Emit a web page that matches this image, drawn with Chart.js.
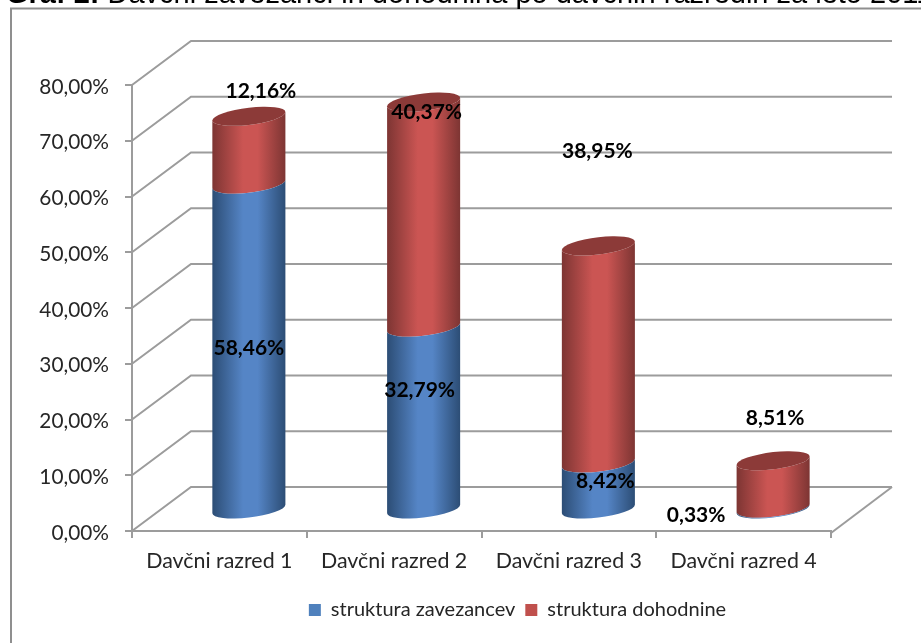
<!DOCTYPE html>
<html><head><meta charset="utf-8">
<style>html,body{margin:0;padding:0;background:#fff}canvas{display:block}</style>
<script src="https://cdn.jsdelivr.net/npm/chart.js@4"></script></head>
<body><canvas id="c" width="921" height="643"></canvas>
<script>
const categories = ['Davčni razred 1','Davčni razred 2','Davčni razred 3','Davčni razred 4'];
const strukturaZavezancev = [58.46,32.79,8.42,0.33];
const strukturaDohodnine = [12.16,40.37,38.95,8.51];
const yTicks = [0,10,20,30,40,50,60,70,80];
const titleBold = 'Graf 2:';
const titleRest = ' Davčni zavezanci in dohodnina po davčnih razredih za leto 2011';

const fmt = v => v.toFixed(2).replace('.',',') + '%';
const depth = {x:59, y:-44};          // 3D wall offset
const barShift = {x:29.5, y:-21};     // bars stand halfway through the depth
const skew = 0.115, capRy = 8.6;
const gridCol = '#9c9c9c';
const FONT = 'Lato, Carlito, sans-serif';
const TICK_COL = '#262626';
// pixel nudges of data labels from the segment centre, as in the original
const labelNudge = [
  [[0,2],[12,-59]],
  [[-4,-28],[3,-102]],
  [[7,-5],[-1,-203]],
  [[-77,7],[2,-66]]
];

function sideGradient(ctx,x0,x1,edge,mid){
  const g=ctx.createLinearGradient(x0,0,x1,0);
  g.addColorStop(0,edge);g.addColorStop(.42,mid);g.addColorStop(.62,mid);g.addColorStop(1,edge);
  return g;
}
const colours={'#4f81bd':['#2c4d75','#5585c6'],'#c0504d':['#7d3533','#cb5553']};

// Draw each stacked bar as a cylinder segment, from the library's own bar geometry
Chart.BarElement.prototype.draw=function(ctx){
  const {x,y,base,width}=this.getProps(['x','y','base','width'],false);
  const rx=width/2,cx=x+barShift.x,top=y+barShift.y,bot=base+barShift.y;
  const col=colours[this.options.backgroundColor];
  ctx.save();
  ctx.transform(1,-skew,0,1,0,skew*cx);
  ctx.fillStyle=sideGradient(ctx,cx-rx,cx+rx,col[0],col[1]);
  ctx.beginPath();
  ctx.ellipse(cx,top,rx,capRy,0,Math.PI,0,true);
  ctx.lineTo(cx+rx,bot);
  ctx.ellipse(cx,bot,rx,capRy,0,0,Math.PI,false);
  ctx.closePath();
  ctx.fill();
  ctx.restore();
};

const wallPlugin={id:'wall',
  beforeDatasetsDraw(chart){
    const {ctx,scales:{x,y}}=chart;
    const l=x.left,r=x.right;
    ctx.save();
    ctx.strokeStyle=gridCol;ctx.lineWidth=2;
    yTicks.forEach(t=>{
      const py=y.getPixelForValue(t);
      ctx.beginPath();
      ctx.moveTo(l,py);
      ctx.lineTo(l+depth.x,py+depth.y);
      ctx.lineTo(r+depth.x+2,py+depth.y);
      ctx.stroke();
    });
    const py=y.getPixelForValue(0);
    ctx.beginPath();
    ctx.moveTo(r+depth.x+2,py+depth.y);
    ctx.lineTo(r,py+2);
    ctx.stroke();
    ctx.restore();
  }};

const topPlugin={id:'topper',
  afterDatasetsDraw(chart){
    const {ctx}=chart;
    // caps
    chart.getDatasetMeta(1).data.forEach(b=>{
      const cx=b.x+barShift.x,cy=b.y+barShift.y,rx=b.width/2;
      ctx.save();
      ctx.transform(1,-skew,0,1,0,skew*cx);
      ctx.fillStyle='#8c3a38';
      ctx.beginPath();ctx.ellipse(cx,cy,rx,capRy,0,0,Math.PI*2);ctx.fill();
      ctx.restore();
    });
    // data labels
    ctx.save();
    ctx.font='bold 21px '+FONT;ctx.fillStyle='#000';ctx.textAlign='center';ctx.textBaseline='middle';
    chart.data.datasets.forEach((ds,di)=>{
      chart.getDatasetMeta(di).data.forEach((b,i)=>{
        const n=labelNudge[i][di];
        ctx.fillText(fmt(ds.data[i]),b.x+barShift.x+n[0],(b.y+b.base)/2+barShift.y+n[1]);
      });
    });
    ctx.restore();
  }};

const framePlugin={id:'frame',
  beforeDraw(chart){
    const {ctx}=chart;
    ctx.save();
    ctx.strokeStyle='#8f8f8f';ctx.lineWidth=2;
    ctx.beginPath();ctx.moveTo(11,643);ctx.lineTo(11,8.5);ctx.lineTo(921,8.5);ctx.stroke();
    ctx.fillStyle='#000';ctx.textAlign='left';ctx.textBaseline='alphabetic';
    ctx.font='bold 29px "Liberation Sans", Arial, sans-serif';
    ctx.fillText(titleBold,6,2.5);
    const w=ctx.measureText(titleBold).width;
    ctx.font='29px "Liberation Sans", Arial, sans-serif';
    ctx.fillText(titleRest,6+w,2.5);
    ctx.restore();
  },
  afterLayout(chart){
    const lg=chart.legend;
    const dx=102;
    lg.left+=dx;lg.right+=dx;
    const h=lg.height;lg.top=590;lg.bottom=590+h;
  }};

new Chart(document.getElementById('c'),{
  type:'bar',
  data:{labels:categories,datasets:[
    {label:'struktura zavezancev',data:strukturaZavezancev,backgroundColor:'#4f81bd',stack:'s',barPercentage:.418,categoryPercentage:1},
    {label:'struktura dohodnine',data:strukturaDohodnine,backgroundColor:'#c0504d',stack:'s',barPercentage:.418,categoryPercentage:1}
  ]},
  options:{
    responsive:false,animation:false,
    layout:{padding:{left:0,right:90,top:85,bottom:0}},
    plugins:{
      title:{display:false},tooltip:{enabled:false},
      legend:{position:'bottom',labels:{font:{family:FONT,size:20},color:TICK_COL,boxWidth:12,boxHeight:12,padding:10}}
    },
    scales:{
      x:{stacked:true,
        afterFit(s){s.height=643-531-s.chart.legend.height;},
        grid:{drawOnChartArea:false,color:gridCol,lineWidth:2,tickLength:7,offset:true},
        border:{color:gridCol,width:2},
        ticks:{font:{family:FONT,size:21.4},color:TICK_COL,maxRotation:0,padding:10}},
      y:{stacked:true,min:0,max:80,
        afterFit(s){s.width=132;},
        afterBuildTicks(s){s.ticks=yTicks.map(v=>({value:v}));},
        grid:{drawOnChartArea:false,color:gridCol,lineWidth:2,tickLength:7},
        border:{color:gridCol,width:2},
        ticks:{font:{family:FONT,size:20.8},color:TICK_COL,padding:16,labelOffset:2,callback:v=>fmt(v)}}
    }
  },
  plugins:[framePlugin,wallPlugin,topPlugin]
});
</script></body></html>
